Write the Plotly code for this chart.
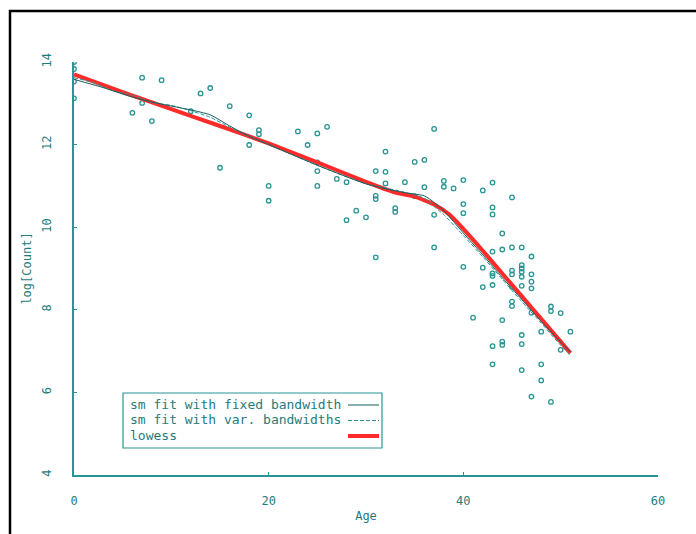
import plotly.graph_objects as go

# ---- data: scatter points (Age, log[Count]) ----
age = [0, 0, 0, 0, 6, 7, 7, 8, 9, 12, 13, 14, 15, 16, 18, 18, 19, 19, 20, 20,
       23, 24, 25, 25, 25, 25, 26, 27, 28, 28, 29, 30, 31, 31, 31, 31,
       32, 32, 32, 33, 33, 34, 35, 35, 36, 36, 37, 37, 37, 38, 38, 39,
       40, 40, 40, 40, 41, 42, 42, 42,
       43, 43, 43, 43, 43, 43, 43, 43, 43,
       44, 44, 44, 44, 44,
       45, 45, 45, 45, 45, 45, 45,
       46, 46, 46, 46, 46, 46, 46, 46, 46,
       47, 47, 47, 47, 47, 47,
       48, 48, 48, 49, 49, 49, 50, 50, 51]
logcount = [14.0, 13.83, 13.53, 13.12, 12.77, 13.62, 13.01, 12.57, 13.56, 12.81, 13.24, 13.37, 11.44, 12.93,
            12.71, 11.99, 12.35, 12.25, 11.0, 10.64,
            12.32, 11.99, 12.27, 11.57, 11.36, 11.0, 12.43, 11.17, 11.09, 10.17, 10.40, 10.24,
            11.36, 10.76, 10.68, 9.27,
            11.83, 11.34, 11.06, 10.46, 10.37, 11.09, 11.58, 10.75, 11.63, 10.97,
            12.38, 10.30, 9.51, 11.12, 10.98, 10.94,
            11.14, 10.56, 10.34, 9.04, 7.81, 10.89, 9.02, 8.55,
            11.08, 10.48, 10.31, 9.41, 8.88, 8.82, 8.60, 7.12, 6.68,
            9.85, 9.46, 7.75, 7.23, 7.15,
            10.72, 9.51, 8.95, 8.86, 8.56, 8.20, 8.09,
            9.51, 9.08, 9.0, 8.92, 8.80, 8.58, 7.39, 7.17, 6.54,
            9.29, 8.86, 8.68, 8.52, 7.93, 5.90,
            7.47, 6.68, 6.29, 8.08, 7.97, 5.77, 7.92, 7.03, 7.47]

# ---- smooth fits ----
fixed_age = [0, 3, 6, 9, 12, 14, 16, 18, 20, 25, 30, 33, 35, 36, 37, 38, 40, 42, 44, 46, 48, 50, 51]
fixed_fit = [13.58, 13.38, 13.15, 12.98, 12.84, 12.72, 12.45, 12.2, 12.0, 11.5, 11.05, 10.88, 10.8, 10.76,
             10.6, 10.4, 9.86, 9.33, 8.78, 8.25, 7.72, 7.22, 6.98]

var_age = [0, 2, 4, 6, 8, 10, 12, 14, 16, 18, 20, 25, 30, 33, 35, 36, 37, 38, 40, 42, 44, 46, 48, 50, 51]
var_fit = [13.62, 13.5, 13.3, 13.2, 13.02, 12.95, 12.82, 12.66, 12.42, 12.2, 12.0, 11.5, 11.05, 10.9,
           10.78, 10.7, 10.5, 10.3, 9.8, 9.28, 8.74, 8.2, 7.68, 7.14, 6.9]

lowess_age = [0, 5, 10, 15, 20, 25, 30, 33, 35, 37, 38.6, 40, 42, 44, 46, 48, 50, 51]
lowess_fit = [13.70, 13.27, 12.86, 12.45, 12.03, 11.57, 11.10, 10.84, 10.74, 10.55, 10.30, 9.96, 9.43,
              8.88, 8.33, 7.78, 7.23, 6.95]

legend_labels = ["sm fit with fixed bandwidth", "sm fit with var. bandwidths", "lowess"]
x_ticks = [0, 20, 40, 60]
y_ticks = [4, 6, 8, 10, 12, 14]

TEAL = "#2a9494"
TEXT = "#1f7b7b"
DARK = "#175c5c"
RED = "#ff2a2a"
MONO = "DejaVu Sans Mono, Liberation Mono, monospace"

fig = go.Figure()
fig.add_trace(go.Scatter(x=age, y=logcount, mode="markers",
                         marker=dict(symbol="circle-open", size=4.5, color=TEAL, line=dict(width=1.3)),
                         showlegend=False, hoverinfo="skip"))
fig.add_trace(go.Scatter(x=lowess_age, y=lowess_fit, mode="lines",
                         line=dict(color=RED, width=4, shape="spline", smoothing=0.5),
                         showlegend=False))
fig.add_trace(go.Scatter(x=var_age, y=var_fit, mode="lines",
                         line=dict(color=TEAL, width=1, dash="4px,2px", shape="spline", smoothing=0.6),
                         showlegend=False))
fig.add_trace(go.Scatter(x=fixed_age, y=fixed_fit, mode="lines",
                         line=dict(color=DARK, width=1, shape="spline", smoothing=0.6),
                         showlegend=False))

W, H = 696, 534
L, R, T, B = 74, 38, 62, 59
pw, ph = W - L - R, H - T - B

def px(xp):
    return (xp - L) / pw

def py(yp):
    return (H - B - yp) / ph

shapes = []
annotations = []
# outer border
shapes.append(dict(type="rect", xref="paper", yref="paper",
                   x0=px(10), x1=px(720), y0=py(560), y1=py(11),
                   line=dict(color="black", width=2.5)))
# legend box
shapes.append(dict(type="rect", xref="paper", yref="paper",
                   x0=px(123), x1=px(382), y0=py(448), y1=py(393),
                   line=dict(color=TEAL, width=1.2), fillcolor="white", layer="above"))
rows = [404, 419.5, 435]
styles = [dict(color=DARK, width=1), dict(color=TEAL, width=1, dash="4px,2px"), dict(color=RED, width=4)]
for lab, yy, st in zip(legend_labels, rows, styles):
    annotations.append(dict(xref="paper", yref="paper", x=px(128), y=py(yy), xanchor="left", yanchor="middle",
                            text=lab, showarrow=False, font=dict(family=MONO, size=13, color=TEXT)))
    shapes.append(dict(type="line", xref="paper", yref="paper", x0=px(348), x1=px(379),
                       y0=py(yy + 1), y1=py(yy + 1), line=st, layer="above"))

fig.update_layout(
    width=W, height=H, margin=dict(l=L, r=R, t=T, b=B),
    paper_bgcolor="white", plot_bgcolor="white",
    font=dict(family=MONO, size=12, color=TEXT),
    shapes=shapes, annotations=annotations, showlegend=False,
)
fig.update_xaxes(range=[0, 60], tickvals=x_ticks, showgrid=False, zeroline=False,
                 showline=True, linecolor=TEAL, linewidth=1.5, ticks="inside", ticklen=3,
                 tickcolor=TEAL, ticklabelstandoff=14,
                 title=dict(text="Age", standoff=4, font=dict(size=12, color=TEXT)))
fig.update_yaxes(range=[4, 14], tickvals=y_ticks, showgrid=False, zeroline=False,
                 showline=True, linecolor=TEAL, linewidth=1.5, ticks="inside", ticklen=3,
                 tickcolor=TEAL, tickangle=-90, ticklabelstandoff=16,
                 title=dict(text="log[Count]", standoff=6, font=dict(size=12, color=TEXT)))

fig.write_html("out.html")
